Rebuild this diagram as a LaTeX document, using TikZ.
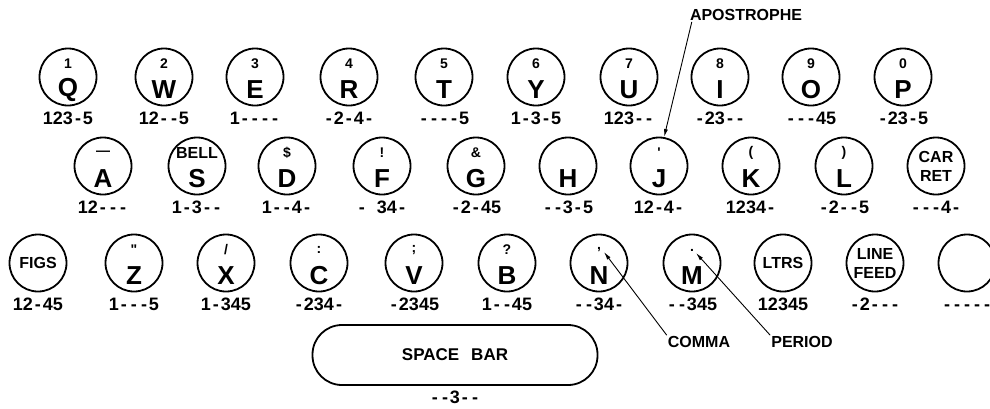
\documentclass[tikz,border=0pt]{standalone}
\usepackage{fontspec}
\setmainfont{Liberation Sans}
\usetikzlibrary{arrows.meta}

% each code character sits in a cell as wide as a digit ("." = empty cell)
\def\bcode#1{\bcodestep#1\relax}
\def\bcodestep#1{\ifx#1\relax\else
  \ifx#1.\makebox[.556em]{}\else\makebox[.556em]{#1}\fi
  \expandafter\bcodestep\fi}

\tikzset{
  keycap/.style={draw, circle, minimum size=57pt, inner sep=0pt, line width=1.8pt},
  upsym/.style={font=\fontsize{14}{14}\selectfont\bfseries, inner sep=0pt, yshift=13pt},
  letter/.style={font=\fontsize{26}{26}\selectfont\bfseries, inner sep=0pt, yshift=-13pt},
  codelbl/.style={font=\fontsize{18}{18}\selectfont\bfseries, inner sep=0pt,
    anchor=base, yshift=-18pt},
  letterkey/.style n args={3}{keycap,
    label={[upsym]center:#1}, label={[letter]center:#2},
    label={[codelbl]below:\bcode{#3}}},
  wordkey/.style={keycap, align=center,
    font=\fontsize{16}{19}\selectfont\bfseries,
    label={[codelbl]below:\bcode{#1}}},
  note/.style={font=\fontsize{16}{16}\selectfont\bfseries, inner sep=1pt},
  pointer/.style={-{Latex[length=8pt, width=4pt]}, line width=0.9pt},
}

\begin{document}
\begin{tikzpicture}[x=1pt, y=-1pt]
\useasboundingbox (0,0) rectangle (990,408);

% ═══════════════════════════════════════════════════════
% top row
% ═══════════════════════════════════════════════════════
\node[letterkey={1}{Q}{123-5}] (kq) at (68,77) {};
\node[letterkey={2}{W}{12--5}] (kw) at (164,77) {};
\node[letterkey={3}{E}{1----}] (ke) at (255,77) {};
\node[letterkey={4}{R}{-2-4-}] (kr) at (349,77) {};
\node[letterkey={5}{T}{----5}] (kt) at (444,77) {};
\node[letterkey={6}{Y}{1-3-5}] (ky) at (536,77) {};
\node[letterkey={7}{U}{123--}] (ku) at (629,77) {};
\node[letterkey={8}{I}{-23--}] (ki) at (720,77) {};
\node[letterkey={9}{O}{---45}] (ko) at (811,77) {};
\node[letterkey={0}{P}{-23-5}] (kp) at (903,77) {};

% ═══════════════════════════════════════════════════════
% middle row
% ═══════════════════════════════════════════════════════
\node[letterkey={—}{A}{12---}] (ka) at (103,166) {};
\node[letterkey={\fontsize{16}{16}\selectfont BELL}{S}{1-3--}] (ks) at (197,166) {};
\node[letterkey={\$}{D}{1--4-}] (kd) at (287,166) {};
\node[letterkey={!}{F}{-.34-}] (kf) at (382,166) {};
\node[letterkey={\&}{G}{-2-45}] (kg) at (476,166) {};
\node[letterkey={}{H}{--3-5}] (kh) at (568,166) {};
\node[letterkey={\textquotesingle}{J}{12-4-}] (kj) at (659,166) {};
\node[letterkey={(}{K}{1234-}] (kk) at (751,166) {};
\node[letterkey={)}{L}{-2--5}] (kl) at (844,166) {};
\node[wordkey={---4-}] (kcr) at (936,166) {CAR\\RET};

% ═══════════════════════════════════════════════════════
% bottom row and space bar
% ═══════════════════════════════════════════════════════
\node[wordkey={12-45}] (kfigs) at (38,263) {FIGS};
\node[letterkey={\textquotedbl}{Z}{1---5}] (kz) at (134,263) {};
\node[letterkey={/}{X}{1-345}] (kx) at (226,263) {};
\node[letterkey={{:}}{C}{-234-}] (kc) at (319,263) {};
\node[letterkey={;}{V}{-2345}] (kv) at (414,263) {};
\node[letterkey={?}{B}{1--45}] (kb) at (507,263) {};
\node[letterkey={,}{N}{--34-}] (kn) at (599,263) {};
\node[letterkey={.}{M}{--345}] (km) at (692,263) {};
\node[wordkey={12345}] (kltrs) at (783,263) {LTRS};
\node[wordkey={-2---}] (klf) at (875,263) {LINE\\FEED};
\node[wordkey={-----}] (kblank) at (967,263) {};

\node[draw, line width=1.8pt, rounded corners=29.5pt,
      minimum width=285pt, minimum height=60pt,
      font=\fontsize{17}{17}\selectfont\bfseries,
      label={[codelbl]below:\bcode{--3--}}]
  (space) at (455,355) {SPACE\hspace{12pt}BAR};

% callouts
\node[note] (apos) at (746,15) {APOSTROPHE};
\draw[pointer] ([xshift=3pt]apos.south west) -- (kj.80);

\node[note] (comma) at (699,342) {COMMA};
\coordinate (ncomma) at (604,252);
\draw[pointer] (comma.north west) -- (ncomma);

\node[note] (period) at (802,342) {PERIOD};
\coordinate (mperiod) at (696,253);
\draw[pointer] (period.north west) -- (mperiod);

\end{tikzpicture}
\end{document}
